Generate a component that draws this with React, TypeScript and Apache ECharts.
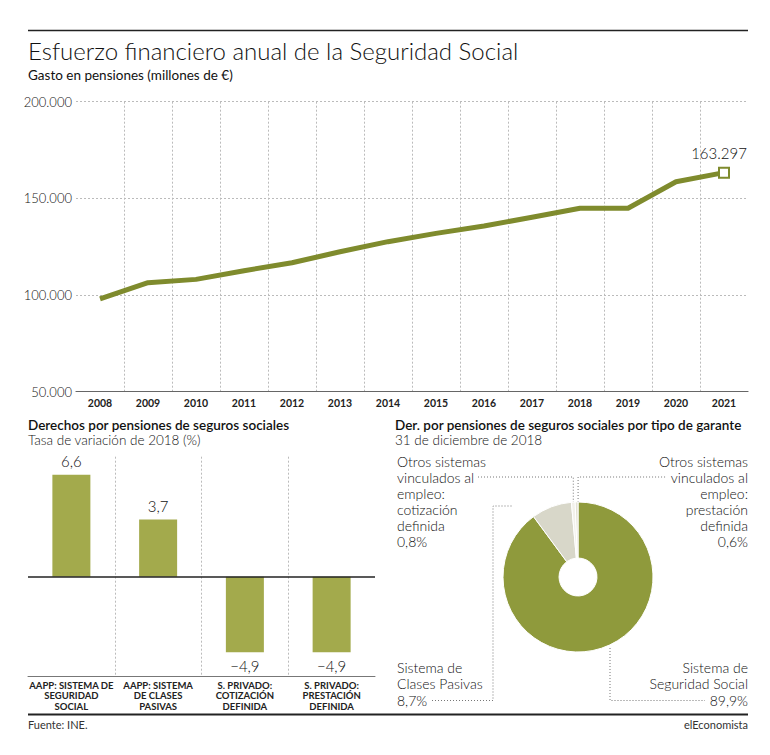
import React, { useEffect, useRef } from 'react';
import * as echarts from 'echarts';

// ---------- DATA ----------
const years = ['2008', '2009', '2010', '2011', '2012', '2013', '2014', '2015', '2016', '2017', '2018', '2019', '2020', '2021'];
const gasto = [98000, 106400, 108100, 112600, 116700, 122400, 127600, 131900, 135700, 140200, 144900, 144900, 158600, 163297];
const yMin = 50000;
const yMax = 200000;
const yStep = 50000;

const barCategories = [
  'AAPP: SISTEMA DE\nSEGURIDAD\nSOCIAL',
  'AAPP: SISTEMA\nDE CLASES\nPASIVAS',
  'S. PRIVADO:\nCOTIZACIÓN\nDEFINIDA',
  'S. PRIVADO:\nPRESTACIÓN\nDEFINIDA',
];
const barValues = [6.6, 3.7, -4.9, -4.9];

const pieNames = [
  'Sistema de\nSeguridad Social',
  'Sistema de\nClases Pasivas',
  'Otros sistemas\nvinculados al\nempleo:\ncotización\ndefinida',
  'Otros sistemas\nvinculados al\nempleo:\nprestación\ndefinida',
];
const pieValues = [89.9, 8.7, 0.8, 0.6];
const pieColors = ['#8f9a3c', '#d8d7c9', '#f2f1ea', '#e4e2d4'];

// ---------- HELPERS ----------
const thousands = (v: number) => String(v).replace(/\B(?=(\d{3})+(?!\d))/g, '.');
const dec = (v: number) => v.toFixed(1).replace('.', ',').replace('-', '\u2212');

const FONT = 'Lato, "Open Sans", sans-serif';
const LINE_COLOR = '#7f8b2d';
const BAR_COLOR = '#a3aa4c';
const TXT = '#111';
const DOT = { stroke: '#777', lineWidth: 1, lineDash: [1, 2] };

export default function App() {
  const ref = useRef<HTMLDivElement>(null);

  useEffect(() => {
    const chart = echarts.init(ref.current!, null, { renderer: 'svg' });

    const cx = 578;
    const cy = 577;
    const rOuter = 75;
    const rInner = 19;

    const total = pieValues.reduce((a, b) => a + b, 0);
    const anchors: { x: number; y: number }[] = [];
    let cum = 0;
    pieValues.forEach((v) => {
      const mid = (cum + v / 2) / total;
      const ang = ((90 - mid * 360) * Math.PI) / 180;
      anchors.push({ x: cx + rOuter * Math.cos(ang), y: cy - rOuter * Math.sin(ang) });
      cum += v;
    });

    const pieLabel = (i: number) => pieNames[i] + '\n' + dec(pieValues[i]) + '%';

    const lastIdx = gasto.length - 1;
    const lineData = gasto.map((v, i) =>
      i === lastIdx
        ? {
            value: v,
            symbol: 'rect',
            symbolSize: 10,
            itemStyle: { color: '#fff', borderColor: LINE_COLOR, borderWidth: 2 },
            label: {
              show: true,
              position: 'top',
              distance: 6,
              formatter: (p: any) => thousands(p.value),
              fontFamily: FONT,
              fontSize: 15,
              fontWeight: 300,
              color: TXT,
              offset: [-5, 0],
            },
          }
        : { value: v }
    );

    const barData = barValues.map((v) => ({
      value: v,
      label: {
        show: true,
        position: v >= 0 ? 'top' : 'bottom',
        distance: 6,
        formatter: (p: any) => dec(p.value),
        fontFamily: FONT,
        fontSize: 15,
        fontWeight: 300,
        color: TXT,
      },
    }));

    const option: any = {
      animation: false,
      backgroundColor: '#fff',
      textStyle: { fontFamily: FONT },
      grid: [
        { left: 76, top: 101.7, width: 672, height: 290, containLabel: false },
        { left: 28, top: 456.7, width: 347, height: 219.3, containLabel: false },
      ],
      xAxis: [
        {
          gridIndex: 0,
          type: 'category',
          data: years,
          boundaryGap: true,
          axisLine: { show: true, lineStyle: { color: '#666', width: 1.2 } },
          axisTick: { show: false },
          axisLabel: { color: '#222', fontWeight: 'bold', fontSize: 10.5, fontFamily: FONT, margin: 6 },
          splitLine: {
            show: true,
            showMinLine: false,
            showMaxLine: false,
            lineStyle: { color: '#bbb', type: [2, 2], width: 1 },
          },
        },
        {
          gridIndex: 1,
          type: 'category',
          data: barCategories,
          boundaryGap: true,
          position: 'bottom',
          axisLine: { show: true, onZero: false, lineStyle: { color: '#777', width: 1 } },
          axisTick: { show: false },
          axisLabel: {
            color: '#222',
            fontWeight: 'bold',
            fontSize: 9.5,
            lineHeight: 10.5,
            fontFamily: FONT,
            margin: 4,
            interval: 0,
          },
          splitLine: {
            show: true,
            showMinLine: false,
            showMaxLine: false,
            lineStyle: { color: '#bbb', type: [2, 2], width: 1 },
          },
        },
      ],
      yAxis: [
        {
          gridIndex: 0,
          type: 'value',
          min: yMin,
          max: yMax,
          interval: yStep,
          axisLine: { show: false },
          axisTick: { show: false },
          axisLabel: {
            formatter: (v: number) => thousands(v),
            color: TXT,
            fontSize: 13,
            fontWeight: 300,
            fontFamily: FONT,
            margin: 4,
          },
          splitLine: { show: true, lineStyle: { color: '#bbb', type: [2, 2], width: 1 } },
        },
        {
          gridIndex: 1,
          type: 'value',
          min: -6.43,
          max: 7.77,
          show: false,
          splitLine: { show: false },
        },
      ],
      series: [
        {
          type: 'line',
          xAxisIndex: 0,
          yAxisIndex: 0,
          data: lineData,
          symbol: 'none',
          lineStyle: { color: LINE_COLOR, width: 5, join: 'round', cap: 'butt' },
          itemStyle: { color: LINE_COLOR },
          z: 5,
        },
        {
          type: 'bar',
          xAxisIndex: 1,
          yAxisIndex: 1,
          data: barData,
          barWidth: 38,
          itemStyle: { color: BAR_COLOR },
          markLine: {
            silent: true,
            symbol: ['none', 'none'],
            label: { show: false },
            lineStyle: { color: '#222', width: 1.5, type: 'solid' },
            data: [{ yAxis: 0 }],
          },
        },
        {
          type: 'pie',
          center: [cx, cy],
          radius: [rInner, rOuter],
          startAngle: 90,
          clockwise: true,
          label: { show: false },
          labelLine: { show: false },
          itemStyle: { borderColor: '#fff', borderWidth: 1 },
          data: pieValues.map((v, i) => ({ value: v, name: pieNames[i], itemStyle: { color: pieColors[i] } })),
          z: 3,
        },
      ],
      graphic: [
        { type: 'line', shape: { x1: 28, y1: 30.5, x2: 748, y2: 30.5 }, style: { stroke: '#222', lineWidth: 1.5 } },
        {
          type: 'text',
          x: 28,
          y: 50,
          style: { text: 'Esfuerzo financiero anual de la Seguridad Social', fontFamily: FONT, fontSize: 24, fontWeight: 300, fill: TXT, verticalAlign: 'middle' },
        },
        {
          type: 'text',
          x: 28,
          y: 75,
          style: { text: 'Gasto en pensiones (millones de €)', fontFamily: FONT, fontSize: 13.5, fontWeight: 'normal', fill: TXT, verticalAlign: 'middle' },
        },
        {
          type: 'text',
          x: 28,
          y: 425,
          style: { text: 'Derechos por pensiones de seguros sociales', fontFamily: FONT, fontSize: 13.5, fontWeight: 600, fill: TXT, verticalAlign: 'middle' },
        },
        {
          type: 'text',
          x: 28,
          y: 440,
          style: { text: 'Tasa de variación de 2018 (%)', fontFamily: FONT, fontSize: 13.5, fontWeight: 300, fill: TXT, verticalAlign: 'middle' },
        },
        {
          type: 'text',
          x: 395,
          y: 425,
          style: { text: 'Der. por pensiones de seguros sociales por tipo de garante', fontFamily: FONT, fontSize: 13.5, fontWeight: 600, fill: TXT, verticalAlign: 'middle' },
        },
        {
          type: 'text',
          x: 395,
          y: 440,
          style: { text: '31 de diciembre de 2018', fontFamily: FONT, fontSize: 13.5, fontWeight: 300, fill: TXT, verticalAlign: 'middle' },
        },
        // pie labels
        {
          type: 'text',
          x: 397,
          y: 453,
          style: { text: pieLabel(2), fontFamily: FONT, fontSize: 14, fontWeight: 300, lineHeight: 16, fill: TXT, align: 'left', verticalAlign: 'top' },
        },
        {
          type: 'text',
          x: 748,
          y: 453,
          style: { text: pieLabel(3), fontFamily: FONT, fontSize: 14, fontWeight: 300, lineHeight: 16, fill: TXT, align: 'right', verticalAlign: 'top' },
        },
        {
          type: 'text',
          x: 397,
          y: 659,
          style: { text: pieLabel(1), fontFamily: FONT, fontSize: 14, fontWeight: 300, lineHeight: 16.5, fill: TXT, align: 'left', verticalAlign: 'top' },
        },
        {
          type: 'text',
          x: 748,
          y: 659,
          style: { text: pieLabel(0), fontFamily: FONT, fontSize: 14, fontWeight: 300, lineHeight: 16.5, fill: TXT, align: 'right', verticalAlign: 'top' },
        },
        // leader lines
        {
          type: 'polyline',
          shape: { points: [[478, 477], [anchors[2].x, 477], [anchors[2].x, anchors[2].y]] },
          style: { ...DOT, fill: null },
        },
        {
          type: 'polyline',
          shape: { points: [[anchors[3].x + 1.5, anchors[3].y], [anchors[3].x + 1.5, 477], [667, 477]] },
          style: { ...DOT, fill: null },
        },
        {
          type: 'polyline',
          shape: { points: [[432, 700.5], [493, 700.5], [493, 506], [513, 506]] },
          style: { ...DOT, fill: null },
        },
        {
          type: 'polyline',
          shape: { points: [[610, 648], [610, 700.5], [705, 700.5]] },
          style: { ...DOT, fill: null },
        },
        // footer
        { type: 'line', shape: { x1: 28, y1: 714.5, x2: 748, y2: 714.5 }, style: { stroke: '#222', lineWidth: 1.8 } },
        {
          type: 'text',
          x: 28,
          y: 724,
          style: { text: 'Fuente: INE.', fontFamily: FONT, fontSize: 11, fill: '#333', verticalAlign: 'middle' },
        },
        {
          type: 'text',
          x: 748,
          y: 724,
          style: { text: 'elEconomista', fontFamily: FONT, fontSize: 11, fill: '#333', align: 'right', verticalAlign: 'middle' },
        },
      ],
    };

    chart.setOption(option);
    return () => chart.dispose();
  }, []);

  return (
    <div
      ref={ref}
      style={{ position: 'fixed', left: 0, top: 0, width: 770, height: 755, background: '#fff' }}
    />
  );
}
